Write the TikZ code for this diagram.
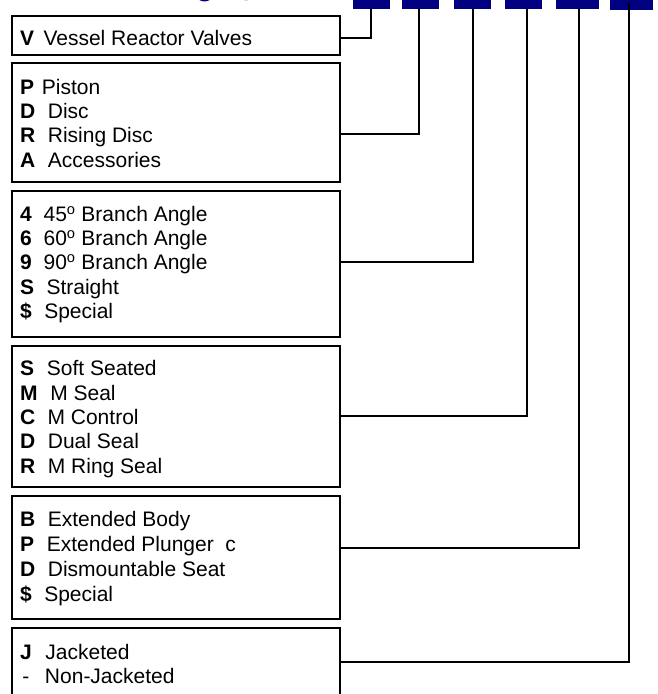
\documentclass[tikz,border=0pt]{standalone}
\usepackage{fontspec}
\setmainfont{Liberation Sans}
\definecolor{navy}{RGB}{0,0,128}
\newcommand\krow[5]{\node[lbl] (#1) at (20,#2) {\makebox[#4pt][l]{\textbf{#3}}#5};}
\begin{document}
\begin{tikzpicture}[x=1pt,y=-1pt,
  box/.style={draw, line width=2pt, inner sep=0pt, minimum width=328.6pt},
  lbl/.style={anchor=base west, inner sep=0pt, font=\fontsize{21}{24}\selectfont},
  conn/.style={line width=2pt},
  key/.style={fill=navy, inner sep=0pt, minimum height=8.7pt},
  ttl/.style={anchor=base, inner sep=0pt, text=navy, font=\fontsize{30}{34}\selectfont\bfseries}]
\useasboundingbox (0,0) rectangle (658,694);
\begin{scope}
\clip (0,0) rectangle (658,694);
% title fragments (cut off at top)
\node[ttl] (tg) at (205,-4.3) {g};
\node[ttl] (ty) at (251,-5.3) {y};
% code keys
\node[key, minimum width=37pt] (k1) at (371.5,4.35) {};
\node[key, minimum width=37pt] (k2) at (420.5,4.35) {};
\node[key, minimum width=37pt] (k3) at (472.5,4.35) {};
\node[key, minimum width=37pt] (k4) at (523.5,4.35) {};
\node[key, minimum width=43pt] (k5) at (577.5,4.35) {};
\node[key, minimum width=43pt, minimum height=10pt] (k6) at (631.5,5) {};
% boxes
\node[box, minimum height=39pt] (b1) at (176,35.5) {};
\node[box, minimum height=118.7pt] (b2) at (176,122.65) {};
\node[box, minimum height=146pt] (b3) at (176,263.7) {};
\node[box, minimum height=141pt] (b4) at (176,416.2) {};
\node[box, minimum height=123pt] (b5) at (176,557.5) {};
\node[box, minimum height=81.7pt] (b6) at (176,669.15) {};
% connectors
\draw[conn] ([yshift=-23pt]b1.north east) -| ([xshift=-0.8pt]k1.south);
\draw[conn] ([yshift=-71.7pt]b2.north east) -| ([xshift=-1.8pt]k2.south);
\draw[conn] ([yshift=-72.3pt]b3.north east) -| ([xshift=0.5pt]k3.south);
\draw[conn] ([yshift=-71.3pt]b4.north east) -| ([xshift=3.2pt]k4.south);
\draw[conn] ([yshift=-53pt]b5.north east) -| ([xshift=1.8pt]k5.south);
\draw[conn] ([yshift=-34.4pt]b6.north east) -| ([xshift=-2.8pt,yshift=-3pt]k6.north);
% texts
\krow{r11}{45}{V}{23.3}{Vessel Reactor Valves}
\krow{r21}{94}{P}{21.7}{Piston}
\krow{r22}{118.4}{D}{27.7}{Disc}
\krow{r23}{142.7}{R}{27.7}{Rising Disc}
\krow{r24}{167}{A}{27.7}{Accessories}
\krow{r31}{221.7}{4}{23.4}{45\textsuperscript{o} Branch Angle}
\krow{r32}{245.8}{6}{23.4}{60\textsuperscript{o} Branch Angle}
\krow{r33}{269.9}{9}{23.4}{90\textsuperscript{o} Branch Angle}
\krow{r34}{294}{S}{26.3}{Straight}
\krow{r35}{318.1}{\$}{24.1}{Special}
\krow{r41}{375.7}{S}{26.7}{Soft Seated}
\krow{r42}{400}{M}{30.1}{M Seal}
\krow{r43}{424.3}{C}{27.4}{M Control}
\krow{r44}{448.6}{D}{27.7}{Dual Seal}
\krow{r45}{473}{R}{27.7}{M Ring Seal}
\krow{r51}{526.7}{B}{27.7}{Extended Body}
\krow{r52}{551.7}{P}{26.7}{Extended Plunger\ \ c}
\krow{r53}{576.7}{D}{27.7}{Dismountable Seat}
\krow{r54}{601.7}{\$}{24.1}{Special}
\krow{r61}{659.3}{J}{25.2}{Jacketed}
\node[lbl] (r62) at (20,683.3) {\makebox[24.8pt][l]{\hspace{2.3pt}-}Non-Jacketed};
\end{scope}
\end{tikzpicture}
\end{document}
